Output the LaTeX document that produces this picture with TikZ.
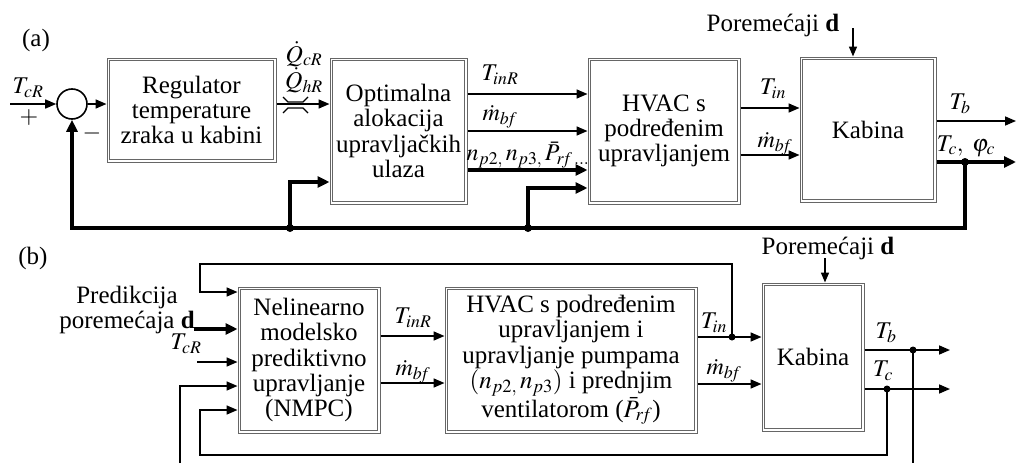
\documentclass[tikz,border=0pt]{standalone}
\usepackage{mathptmx}
\usepackage[no-math]{fontspec}
\setmainfont{Liberation Serif}
\usetikzlibrary{arrows.meta,calc}
\newcommand\bigfs{\fontsize{25}{25.3}\selectfont}
\newcommand\labfs{\fontsize{24}{24}\selectfont}
\begin{document}
\begin{tikzpicture}[x=1pt,y=-1pt,
  every node/.style={font=\bigfs, inner sep=0pt},
  lab/.style={font=\labfs},
  blk/.style={rectangle, draw=black!60, line width=1pt, align=center,
    path picture={\draw[black!60, line width=1pt]
      ([xshift=2.8pt,yshift=2.8pt]path picture bounding box.south west) rectangle
      ([xshift=-2.8pt,yshift=-2.8pt]path picture bounding box.north east);}},
  ar/.style={line width=1.6pt, -{Triangle[length=11pt,width=9pt]}},
  tk/.style={line width=3.2pt, -{Triangle[length=12pt,width=11pt]}},
  ln/.style={line width=1.6pt},
  jdot/.style={circle, fill, inner sep=0pt, minimum size=8pt},
  jdots/.style={circle, fill, inner sep=0pt, minimum size=7pt}]
\useasboundingbox (0,0) rectangle (1016,463);

% ---------------- (a) ----------------
\node (la) at (36,40) {(a)};
\node[circle, draw, line width=1.6pt, minimum size=30pt] (sum) at (72,104) {};
\node[blk, minimum width=169pt, minimum height=104pt] (reg) at (191.5,110) {Regulator\\temperature\\zraka u kabini};
\node[blk, minimum width=137pt, minimum height=146pt] (opt) at (398.5,131) {Optimalna\\alokacija\\upravljačkih\\ulaza};
\node[blk, minimum width=152pt, minimum height=146pt] (hva) at (664,131) {HVAC s\\podređenim\\upravljanjem};
\node[blk, minimum width=136pt, minimum height=145pt] (kaa) at (868,129.5) {Kabina};

\coordinate (inA) at (10,104);
\node[lab] (tcrA) at (28,88) {$T_{cR}$};
\node[lab] (plus) at (29,118) {$+$};
\node[lab] (minus) at (92,133) {$-$};
\draw[ar] (inA) -- (sum.west);
\draw[ar] (sum.east) -- (sum.east -| reg.west);
\draw[ar] (reg.east |- sum.east) -- (opt.west |- sum.east);
\draw[line width=1.2pt] (283,97) -- (288,102) -- (303,102) -- (308,97);
\draw[line width=1.2pt] (283,113) -- (288,108) -- (303,108) -- (308,113);
\node[lab] (qc) at (304,54) {$\dot Q_{cR}$};
\node[lab] (qh) at (304,80) {$\dot Q_{hR}$};

\draw[ar] (opt.east |- 0,94) -- (hva.west |- 0,94);
\draw[ar] (opt.east |- 0,131) -- (hva.west |- 0,131);
\draw[tk] (opt.east |- 0,170) -- (hva.west |- 0,170);
\node[lab] (tinrA) at (500,75) {$T_{inR}$};
\node[lab] (mbfA) at (500,117) {$\dot m_{b\!f}$};
\node[lab] (npA) at (528,155) {$n_{p2,}\, n_{p3,}\, \bar P_{r\!f\,\ldots}$};

\draw[ar] (hva.east |- 0,108) -- (kaa.west |- 0,108);
\draw[ar] (hva.east |- 0,155) -- (kaa.west |- 0,155);
\node[lab] (tinA) at (773,89) {$T_{in}$};
\node[lab] (mbfA2) at (775,144) {$\dot m_{b\!f}$};

\node (disA) at (773,25) {Poremećaji \textbf{d}};
\coordinate (disAt) at (853,28);
\draw[ln, -{Triangle[length=10pt,width=8pt]}] (disAt) -- (disAt |- kaa.north);

\coordinate (outTb) at (1016,121);
\coordinate (outTc) at (1016,162);
\draw[ar] (kaa.east |- outTb) -- (outTb);
\draw[tk] (kaa.east |- outTc) -- (outTc);
\node[lab] (tbA) at (960,104) {$T_b$};
\node[lab] (tcA) at (966,146) {$T_c,\ \varphi_c$};

\coordinate (jTc) at (965,162);
\coordinate (j1) at (290,228);
\coordinate (j2) at (528,228);
\draw[tk] (jTc) -- (jTc |- 0,228) -| (sum.south);
\draw[tk] (j1) -- (290,182) -- (opt.west |- 0,182);
\draw[tk] (j2) -- (528,188) -- (hva.west |- 0,188);
\node[jdot] at (jTc) {};
\node[jdot] at (j1) {};
\node[jdot] at (j2) {};

% ---------------- (b) ----------------
\node (lb) at (33,258) {(b)};
\node[blk, minimum width=142pt, minimum height=146pt] (nmpc) at (309,360) {Nelinearno\\modelsko\\prediktivno\\upravljanje\\(NMPC)};
\node[blk, minimum width=252pt, minimum height=146pt] (hvb) at (571,360) {HVAC s podređenim\\upravljanjem i\\upravljanje pumpama\\$(n_{p2,}\, n_{p3})$ i prednjim\\ventilatorom ($\bar P_{r\!f}$)};
\node[blk, minimum width=102pt, minimum height=148pt] (kab) at (813,357) {Kabina};

\node[align=center, font=\fontsize{25}{25}\selectfont] (pred) at (127,310) {Predikcija\\poremećaja \textbf{d}};
\coordinate (predS) at (194,329);
\draw[tk] (predS) -- (nmpc.west |- predS);
\node[lab] (tcrB) at (186,344) {$T_{cR}$};
\coordinate (tcrS) at (197,362);
\draw[ar] (tcrS) -- (nmpc.west |- tcrS);

\draw[ar] (nmpc.east |- 0,336) -- (hvb.west |- 0,336);
\draw[ar] (nmpc.east |- 0,383) -- (hvb.west |- 0,383);
\node[lab] (tinrB) at (413,318) {$T_{inR}$};
\node[lab] (mbfB) at (413,372) {$\dot m_{b\!f}$};

\coordinate (jTin) at (732,337);
\draw[ar] (hvb.east |- 0,337) -- (kab.west |- 0,337);
\draw[ar] (hvb.east |- 0,384) -- (kab.west |- 0,384);
\node[lab] (tinB) at (714,323) {$T_{in}$};
\node[lab] (mbfB2) at (724,371) {$\dot m_{b\!f}$};

\node (disB) at (828,248) {Poremećaji \textbf{d}};
\coordinate (disBt) at (825,258);
\draw[ln, -{Triangle[length=10pt,width=8pt]}] (disBt) -- (disBt |- kab.north);

\coordinate (oTb) at (950,350);
\coordinate (oTc) at (950,389);
\draw[ar] (kab.east |- oTb) -- (oTb);
\draw[ar] (kab.east |- oTc) -- (oTc);
\node[lab] (tbB) at (886,333) {$T_b$};
\node[lab] (tcB) at (883,371) {$T_c$};

\coordinate (jTb) at (913,350);
\coordinate (jTcb) at (887,389);
\draw[ar] (jTin) -- (732,264) -- (200,264) -- (200,292) -- (nmpc.west |- 0,292);
\draw[ar] (jTcb) -- (887,455) -- (200,455) -- (200,410) -- (nmpc.west |- 0,410);
\draw[ln] (jTb) -- (913,463);
\draw[ar] (180,463) -- (180,386) -- (nmpc.west |- 0,386);
\node[jdots] at (jTin) {};
\node[jdots] at (jTb) {};
\node[jdots] at (jTcb) {};
\end{tikzpicture}
\end{document}
